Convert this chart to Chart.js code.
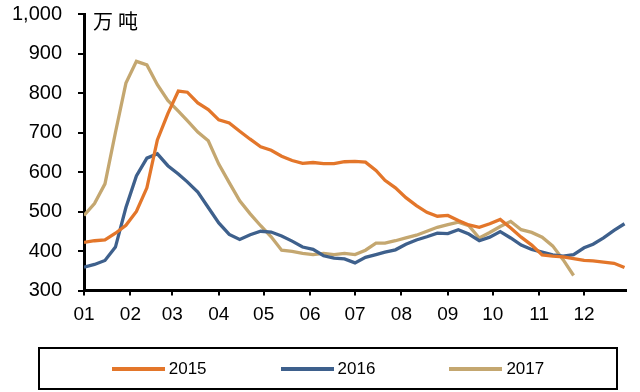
<!DOCTYPE html>
<html>
<head>
<meta charset="utf-8">
<script src="https://cdn.jsdelivr.net/npm/chart.js@4.4.1/dist/chart.umd.min.js"></script>
<style>
	html, body { margin: 0; padding: 0; background: #fff; }
	#wrap { position: relative; width: 640px; height: 392px; }
	#legend {
		position: absolute; left: 38px; top: 347px; width: 580px; height: 43px;
		box-sizing: border-box; border: 2px solid #000;
		display: flex; justify-content: center; align-items: center; gap: 74px;
		font: 17px "Liberation Sans", Arial, sans-serif; color: #000;
	}
	.item { display: flex; align-items: center; }
	.swatch { width: 53px; height: 4px; margin-right: 4px; }
</style>
</head>
<body>
<div id="wrap">
	<canvas id="chart" width="640" height="392"></canvas>
	<div id="legend"></div>
</div>
<script>
"use strict";

// day of year for each weekly reading
const weekDays = [0, 7, 14, 21, 28, 35, 42, 49, 56, 63, 69, 76, 83, 90, 97, 104, 111, 118, 125, 132,
	139, 146, 153, 160, 167, 174, 181, 188, 195, 201, 208, 215, 222, 229, 236, 243, 250, 257, 264, 271,
	278, 285, 292, 299, 306, 313, 320, 327, 334, 340, 347, 354, 361];

const monthDays = [0, 31, 59, 90, 120, 151, 181, 212, 243, 273, 304, 334];
const monthLabels = ["01", "02", "03", "04", "05", "06", "07", "08", "09", "10", "11", "12"];

const seriesNames = ["2015", "2016", "2017"];
const seriesColors = ["#E3762A", "#3E608C", "#C4A770"];

const values2015 = [422, 426, 428, 445, 465, 500, 560, 681, 748, 805, 802, 775, 758, 732, 724, 703, 683, 664, 655, 640,
	629, 622, 624, 621, 621, 626, 627, 625, 604, 579, 560, 535, 515, 498, 488, 490, 477, 466, 460, 469,
	480, 458, 435, 415, 390, 387, 385, 381, 376, 375, 372, 369, 358];
const values2016 = [359, 366, 376, 410, 510, 590, 635, 646, 616, 595, 575, 549, 510, 471, 442, 429, 441, 450, 448, 438,
	425, 410, 404, 388, 382, 380, 370, 384, 391, 397, 403, 417, 428, 436, 445, 444, 454, 443, 426, 435,
	449, 433, 415, 404, 397, 390, 387, 391, 408, 417, 433, 452, 469];
const values2017 = [490, 520, 570, 700, 825, 880, 871, 821, 781, 754, 730, 701, 679, 620, 573, 527, 494, 464, 436, 402,
	399, 394, 391, 394, 391, 394, 391, 402, 420, 420, 426, 433, 440, 450, 460, 467, 473, 464, 433, 447,
	462, 475, 454, 447, 435, 413, 378, 338];

const unitLabel = "万吨";

function toPoints(aValues) {
	return aValues.map(function (v, i) {
		return { x: weekDays[i], y: v };
	});
}

const datasets = [values2015, values2016, values2017].map(function (aValues, i) {
	return {
		label: seriesNames[i],
		data: toPoints(aValues),
		borderColor: seriesColors[i],
		backgroundColor: seriesColors[i],
		borderWidth: 3.3,
		pointRadius: 0,
		tension: 0
	};
});

const unitPlugin = {
	id: "unitLabel",
	afterDraw: function (chart) {
		const ctx = chart.ctx;
		ctx.save();
		ctx.fillStyle = "#000";
		ctx.font = '20px "Noto Sans CJK SC"';
		ctx.textBaseline = "middle";
		ctx.letterSpacing = "5px";
		ctx.fillText(unitLabel, chart.chartArea.left + 9, chart.chartArea.top + 7);
		ctx.restore();
	}
};

const axisFont = { family: '"Liberation Sans", Arial, sans-serif' };

const chart = new Chart(document.getElementById("chart"), {
	type: "line",
	data: { datasets: datasets },
	plugins: [unitPlugin],
	options: {
		responsive: false,
		animation: false,
		layout: { padding: { top: 14, right: 14, left: 0, bottom: 0 } },
		plugins: {
			legend: { display: false },
			tooltip: { enabled: false }
		},
		scales: {
			x: {
				type: "linear",
				min: 0,
				max: 362,
				afterFit: function (scale) {
					scale.height = 101.5;
					scale.paddingLeft = 0;
					scale.paddingRight = 0;
				},
				afterBuildTicks: function (scale) {
					scale.ticks = monthDays.map(function (d) { return { value: d }; });
				},
				grid: { drawOnChartArea: false, drawTicks: true, tickLength: 5, color: "#000", lineWidth: 2 },
				border: { color: "#000", width: 3 },
				ticks: {
					autoSkip: false,
					maxRotation: 0,
					padding: 8,
					color: "#000",
					font: Object.assign({ size: 19 }, axisFont),
					callback: function (value) { return monthLabels[monthDays.indexOf(value)]; }
				}
			},
			y: {
				min: 300,
				max: 1000,
				afterFit: function (scale) {
					scale.width = 84;
					scale.paddingTop = 0;
					scale.paddingBottom = 0;
				},
				grid: { drawOnChartArea: false, drawTicks: true, tickLength: 6, color: "#000", lineWidth: 2 },
				border: { color: "#000", width: 3 },
				ticks: {
					stepSize: 100,
					padding: 16,
					color: "#000",
					font: Object.assign({ size: 20 }, axisFont),
					callback: function (value) { return value.toLocaleString("en-US"); }
				}
			}
		}
	}
});

// boxed legend under the plot, built from the chart's datasets
const legendEl = document.getElementById("legend");
chart.data.datasets.forEach(function (ds) {
	const item = document.createElement("div");
	item.className = "item";
	const swatch = document.createElement("span");
	swatch.className = "swatch";
	swatch.style.background = ds.borderColor;
	const text = document.createElement("span");
	text.textContent = ds.label;
	item.appendChild(swatch);
	item.appendChild(text);
	legendEl.appendChild(item);
});
</script>
</body>
</html>
